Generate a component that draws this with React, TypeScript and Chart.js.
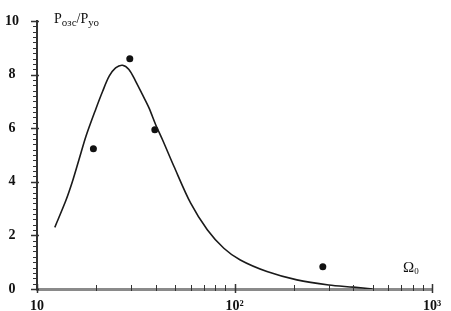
import React, { useEffect, useRef } from "react";
import { Chart, registerables } from "chart.js";

Chart.register(...registerables);

// Smooth model curve: P_озс / P_уо versus Ω0
const curveX = [12.3, 14.0, 15.1, 16.35, 17.7, 19.86, 21.5, 23.2, 25.0, 27.1, 29.2, 31.6, 34.2, 36.9, 39.9, 43.2, 49.4, 60.0, 72.8, 88.3, 107, 146, 207, 300, 400, 500];
const curveY = [2.3, 3.3, 4.0, 4.85, 5.7, 6.72, 7.38, 7.94, 8.25, 8.35, 8.19, 7.75, 7.25, 6.76, 6.13, 5.57, 4.57, 3.2, 2.21, 1.52, 1.08, 0.65, 0.34, 0.15, 0.07, 0.0];

// Experimental points
const pointX = [19.3, 29.5, 39.5, 280];
const pointY = [5.23, 8.59, 5.94, 0.83];

// Axis ticks
const yMajorTicks = [0, 2, 4, 6, 8, 10];
const yMinorStep = 0.2;
const xMinorTicks = [20, 30, 40, 50, 60, 70, 80, 90, 200, 300, 400, 500, 600, 700, 800, 900];
const xTickLabels: Record<number, string> = { 10: "10", 100: "10²", 1000: "10³" };

const SERIF = "'Liberation Serif', 'DejaVu Serif', serif";

const labelPlugin = {
  id: "axisExtras",
  afterDraw(chart: any) {
    const ctx = chart.ctx as CanvasRenderingContext2D;
    const xs = chart.scales.x;
    const ys = chart.scales.y;
    const axX = chart.chartArea.left;
    const axY = chart.chartArea.bottom;
    ctx.save();
    // y ticks
    ctx.strokeStyle = "#333";
    const nY = Math.round(10 / yMinorStep);
    for (let i = 0; i <= nY; i++) {
      const v = i * yMinorStep;
      const major = yMajorTicks.some((m) => Math.abs(m - v) < 1e-6);
      const py = Math.round(ys.getPixelForValue(v)) + 0.5;
      ctx.lineWidth = major ? 1.5 : 1;
      ctx.beginPath();
      ctx.moveTo(axX - (major ? 6 : 4), py);
      ctx.lineTo(axX + (major ? 2 : 1), py);
      ctx.stroke();
    }
    // x ticks
    for (const v of xMinorTicks) {
      const px = Math.round(xs.getPixelForValue(v)) + 0.5;
      ctx.lineWidth = 1;
      ctx.beginPath();
      ctx.moveTo(px, axY - 4);
      ctx.lineTo(px, axY + 2);
      ctx.stroke();
    }
    for (const k of Object.keys(xTickLabels)) {
      const px = Math.round(xs.getPixelForValue(Number(k))) + 0.5;
      ctx.lineWidth = 1.5;
      ctx.beginPath();
      ctx.moveTo(px, axY - 5);
      ctx.lineTo(px, axY + 4);
      ctx.stroke();
    }

    ctx.fillStyle = "#111";
    ctx.textBaseline = "alphabetic";
    ctx.textAlign = "left";
    const big = `14px ${SERIF}`;
    const small = `11px ${SERIF}`;
    let x = 54;
    const base = 23;
    const parts: [string, string, number][] = [
      ["P", big, 0],
      ["озс", small, 3],
      ["/", big, 0],
      ["P", big, 0],
      ["уо", small, 3],
    ];
    for (const [t, f, dy] of parts) {
      ctx.font = f;
      ctx.fillText(t, x, base + dy);
      x += ctx.measureText(t).width;
    }
    // Ω0
    ctx.font = `15px ${SERIF}`;
    ctx.fillText("Ω", 403, 272);
    const w = ctx.measureText("Ω").width;
    ctx.font = `9px ${SERIF}`;
    ctx.fillText("0", 403 + w, 274);
    ctx.restore();
  },
};

export default function App() {
  const ref = useRef<HTMLCanvasElement | null>(null);

  useEffect(() => {
    if (!ref.current) return;
    const curve = curveX.map((x, i) => ({ x, y: curveY[i] }));
    const pts = pointX.map((x, i) => ({ x, y: pointY[i] }));
    const isMajorY = (v: number) => yMajorTicks.some((m) => Math.abs(m - v) < 1e-6);

    const chart = new Chart(ref.current, {
      type: "line",
      data: {
        datasets: [
          {
            type: "line",
            data: curve,
            borderColor: "#1a1a1a",
            borderWidth: 1.6,
            pointRadius: 0,
            tension: 0.3,
            fill: false,
          },
          {
            type: "scatter",
            data: pts,
            backgroundColor: "#111",
            borderColor: "#111",
            pointRadius: 3.5,
            pointBorderWidth: 0,
            showLine: false,
          },
        ],
      } as any,
      options: {
        animation: false,
        responsive: false,
        maintainAspectRatio: false,
        layout: { padding: { top: 21, right: 19, left: 0, bottom: 0 } },
        plugins: { legend: { display: false }, tooltip: { enabled: false } },
        scales: {
          x: {
            type: "logarithmic",
            min: 10,
            max: 1000,
            border: { display: true, color: "#8a8a8a", width: 3 },
            grid: { display: false, drawTicks: true, tickLength: 4 },
            ticks: {
              autoSkip: false,
              maxRotation: 0,
              padding: 5,
              color: "#111",
              font: { family: SERIF, size: 14, weight: "bold" },
              callback: (v: any) => {
                const n = Number(v);
                const k = Object.keys(xTickLabels).find((key) => Math.abs(Number(key) - n) < 1e-6);
                return k ? xTickLabels[Number(k)] : "";
              },
            },
            afterFit: (s: any) => {
              s.height = 22;
            },
          },
          y: {
            type: "linear",
            min: 0,
            max: 10,
            border: { display: true, color: "#333", width: 2 },
            grid: { display: false, drawTicks: true, tickLength: 14 },
            ticks: {
              stepSize: 2,
              autoSkip: false,
              padding: 4,
              crossAlign: "center",
              color: "#111",
              font: { family: SERIF, size: 14, weight: "bold" },
              callback: (v: any) => {
                const n = Number(v);
                return isMajorY(n) ? String(Math.round(n)) : "";
              },
            },
            afterFit: (s: any) => {
              s.width = 37;
            },
          },
        },
      },
      plugins: [labelPlugin],
    } as any);

    return () => chart.destroy();
  }, []);

  return (
    <div style={{ position: "absolute", left: 0, top: 0, width: 451, height: 311, background: "#fff" }}>
      <canvas ref={ref} width={451} height={311} style={{ display: "block" }} />
    </div>
  );
}
